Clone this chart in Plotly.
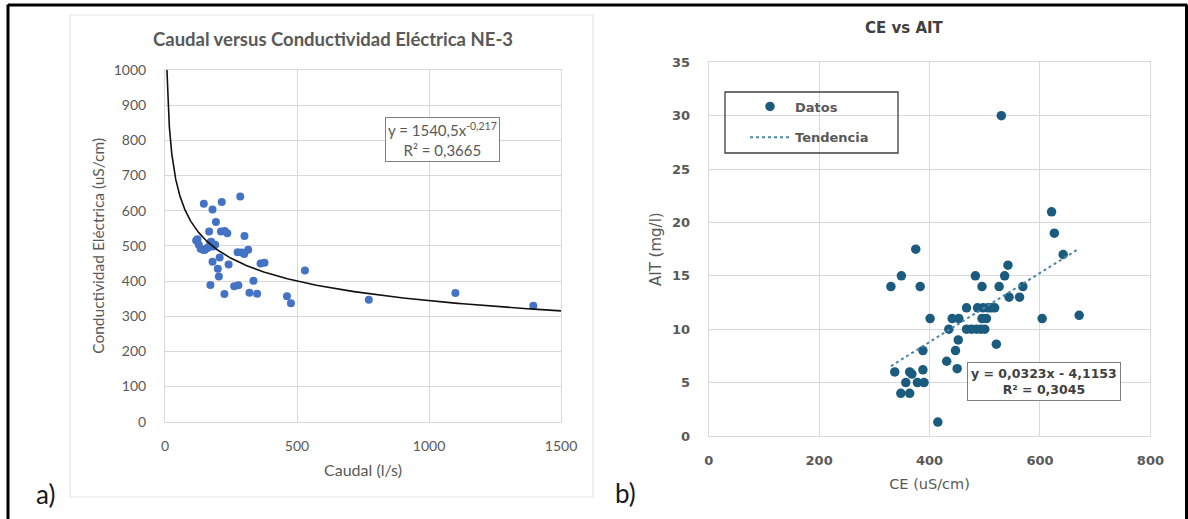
import numpy as np
import plotly.graph_objects as go

W, H = 1188, 519

# ---------------- Panel a) data : Caudal (l/s) vs Conductividad Eléctrica (uS/cm)
caudal = [147, 215, 285, 180, 193, 167, 212, 226, 236, 301,
          123, 118, 128, 135, 144, 150, 160, 163, 172, 175, 178, 182, 190,
          207, 180, 241, 275, 291, 300, 315, 362, 377,
          200, 204, 172, 225, 262, 278, 335, 320, 349,
          462, 477, 530, 772, 1100, 1395]
conductividad = [620, 625, 640, 603, 568, 541, 541, 542, 536, 528,
                 519, 515, 503, 492, 489, 488, 494, 495, 510, 512, 500, 498, 503,
                 467, 455, 447, 482, 481, 477, 489, 450, 452,
                 435, 413, 389, 363, 385, 388, 401, 367, 364,
                 357, 337, 430, 347, 366, 330]
# power trend shown on the chart: y = 1540,5 x^-0,217
pow_a, pow_b = 1540.5, -0.217

# ---------------- Panel b) data : CE (uS/cm) vs AIT (mg/l)
ce = [530, 621, 626, 642, 375, 542, 349, 483, 536, 330, 383, 495, 526, 569,
      544, 563, 467, 487, 497, 506, 512, 518, 401, 441, 453, 495, 503, 604,
      671, 435, 467, 476, 485, 493, 500, 521, 452, 388, 447, 431, 450, 337,
      364, 368, 388, 357, 378, 390, 348, 364, 415]
ait = [30, 21, 19, 17, 17.5, 16, 15, 15, 15, 14, 14, 14, 14, 14,
       13, 13, 12, 12, 12, 12, 12, 12, 11, 11, 11, 11, 11, 11,
       11.3, 10, 10, 10, 10, 10, 10, 8.6, 9, 8, 8, 7, 6.3, 6,
       6, 5.8, 6.2, 5, 5, 5, 4, 4, 1.3]
lin_m, lin_c = 0.0323, -4.1153

# trend curves built from the equations printed on the chart
xa = np.geomspace((1000 / pow_a) ** (1 / pow_b), 1500, 300)
ya = pow_a * xa ** pow_b
xb = np.array([min(ce), max(ce)])
yb = lin_m * xb + lin_c

def px(x):
    return x / W

def py(y):
    return 1 - y / H

LEFT_FONT = "Lato, 'Open Sans', sans-serif"
RIGHT_FONT = "'DejaVu Sans', sans-serif"
GRID = "#D9D9D9"
TXT = "#595959"

fig = go.Figure()

fig.add_trace(go.Scatter(x=caudal, y=conductividad, mode="markers",
                         marker=dict(color="#4472C4", size=8),
                         xaxis="x", yaxis="y", showlegend=False))
fig.add_trace(go.Scatter(x=xa, y=ya, mode="lines",
                         line=dict(color="#111111", width=1.6),
                         xaxis="x", yaxis="y", showlegend=False))

fig.add_trace(go.Scatter(x=ce, y=ait, mode="markers", name="Datos",
                         marker=dict(color="#1B5C7E", size=9.5),
                         xaxis="x2", yaxis="y2", legendgroup="a"))
fig.add_trace(go.Scatter(x=xb, y=yb, mode="lines", name="Tendencia",
                         line=dict(color="#4A87A8", width=2, dash="dot"),
                         xaxis="x2", yaxis="y2", legendgroup="b"))

ax_common = dict(showgrid=True, gridcolor=GRID, gridwidth=1, zeroline=False,
                 showline=True, linecolor=GRID, mirror=True, ticks="",
                 automargin=False)

fig.update_layout(
    width=W, height=H, margin=dict(l=0, r=0, t=0, b=0, autoexpand=False),
    paper_bgcolor="white", plot_bgcolor="white",
    xaxis=dict(domain=[px(165), px(561)], range=[0, 1500], dtick=500,
               tickfont=dict(family=LEFT_FONT, size=14, color=TXT),
               ticklabelstandoff=11,
               title=dict(text="Caudal (l/s)", standoff=12,
                          font=dict(family=LEFT_FONT, size=16, color=TXT)),
               anchor="y", **ax_common),
    yaxis=dict(domain=[py(421.7), py(70)], range=[0, 1000], dtick=100,
               tickfont=dict(family=LEFT_FONT, size=14, color=TXT),
               ticklabelstandoff=15,
               title=dict(text="Conductividad Eléctrica (uS/cm)", standoff=5,
                          font=dict(family=LEFT_FONT, size=15.5, color=TXT)),
               anchor="x", **ax_common),
    xaxis2=dict(domain=[px(708.7), px(1150.4)], range=[0, 800], dtick=200,
                tickfont=dict(family=RIGHT_FONT, size=13, color=TXT, weight="bold"),
                ticklabelstandoff=12,
                title=dict(text="CE (uS/cm)", standoff=12,
                           font=dict(family=RIGHT_FONT, size=14.5, color=TXT)),
                anchor="y2", **ax_common),
    yaxis2=dict(domain=[py(436), py(62.3)], range=[0, 35], dtick=5,
                tickfont=dict(family=RIGHT_FONT, size=13, color=TXT, weight="bold"),
                ticklabelstandoff=15,
                title=dict(text="AIT (mg/l)", standoff=6,
                           font=dict(family=RIGHT_FONT, size=15, color=TXT)),
                anchor="x2", **ax_common),
    legend=dict(x=px(745), y=py(91.5), xanchor="left", yanchor="top",
                bgcolor="rgba(0,0,0,0)", borderwidth=0,
                font=dict(family=RIGHT_FONT, size=13, color=TXT, weight="bold"),
                traceorder="grouped", tracegroupgap=11, itemwidth=40),
)

# frame and boxes (layout decorations)
shapes = [
    dict(type="line", xref="paper", yref="paper", x0=px(8), x1=px(8), y0=0, y1=py(4.5),
         line=dict(color="black", width=3)),
    dict(type="line", xref="paper", yref="paper", x0=px(8), x1=px(1187), y0=py(5), y1=py(5),
         line=dict(color="black", width=3)),
    dict(type="line", xref="paper", yref="paper", x0=px(1186.5), x1=px(1186.5), y0=0, y1=py(4.5),
         line=dict(color="black", width=3)),
    dict(type="rect", xref="paper", yref="paper", x0=px(70), x1=px(593), y0=py(497), y1=py(15),
         line=dict(color="#E3E3E3", width=1.2)),
    dict(type="rect", xref="paper", yref="paper", x0=px(725), x1=px(898), y0=py(153), y1=py(92),
         line=dict(color="#404040", width=1.3)),
]
fig.update_layout(shapes=shapes)

annotations = [
    dict(text="Caudal versus Conductividad Eléctrica NE-3", x=px(333), y=py(39),
         font=dict(family=LEFT_FONT, size=18.5, color=TXT, weight="bold")),
    dict(text="CE vs AIT", x=px(904), y=py(28),
         font=dict(family=RIGHT_FONT, size=15, color="#404040", weight="bold")),
    dict(text="y = 1540,5x<sup>-0,217</sup><br>R² = 0,3665", x=px(442.5), y=py(139),
         font=dict(family=LEFT_FONT, size=15, color=TXT), bordercolor="#7F7F7F",
         borderwidth=1, borderpad=2, bgcolor="white", align="center"),
    dict(text="y = 0,0323x - 4,1153<br>R² = 0,3045", x=px(1044), y=py(381),
         font=dict(family=RIGHT_FONT, size=12.5, color="#404040", weight="bold"),
         bordercolor="#7F7F7F", borderwidth=1, borderpad=3, bgcolor="white", align="center"),
    dict(text="a)", x=px(45), y=py(494), font=dict(family=LEFT_FONT, size=26, color="#1a1a1a")),
    dict(text="b)", x=px(625), y=py(493), font=dict(family=LEFT_FONT, size=26, color="#1a1a1a")),
]
for a in annotations:
    a.update(xref="paper", yref="paper", showarrow=False, xanchor="center", yanchor="middle")
fig.update_layout(annotations=annotations)

fig.write_html("out.html", config={"displayModeBar": False},
               post_script="document.body.style.margin='0';document.body.style.padding='0';")
